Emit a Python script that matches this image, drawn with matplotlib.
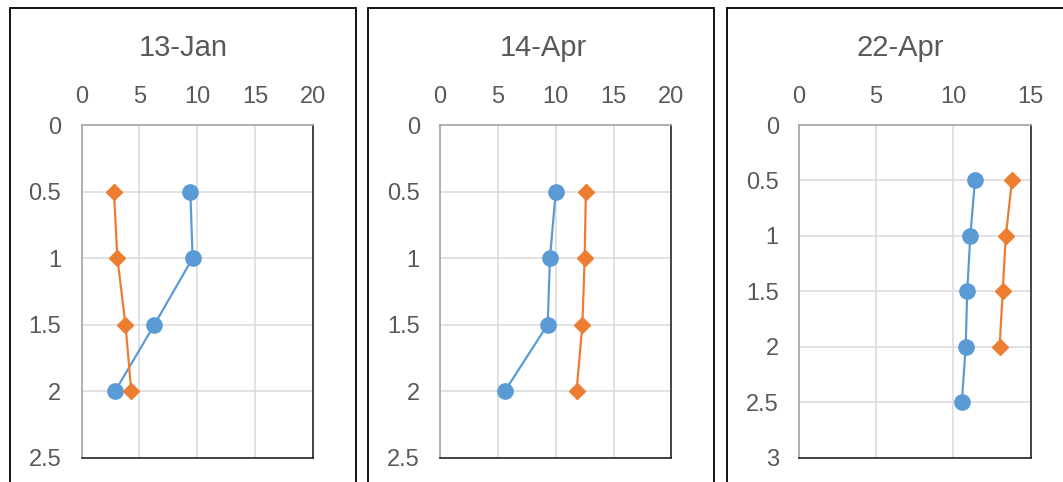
import matplotlib.pyplot as plt
from matplotlib.patches import Rectangle

plt.rcParams['font.family'] = ['Liberation Sans', 'DejaVu Sans']

# data: depth (y) vs value (x)
titles = ['13-Jan', '14-Apr', '22-Apr']

depth_jan13 = [0.5, 1, 1.5, 2]
blue_jan13 = [9.4, 9.6, 6.3, 2.9]
orange_jan13 = [2.8, 3.1, 3.8, 4.3]

depth_apr14 = [0.5, 1, 1.5, 2]
blue_apr14 = [10.0, 9.5, 9.3, 5.6]
orange_apr14 = [12.6, 12.5, 12.3, 11.8]

depth_apr22_blue = [0.5, 1, 1.5, 2, 2.5]
blue_apr22 = [11.4, 11.1, 10.9, 10.8, 10.55]
depth_apr22_orange = [0.5, 1, 1.5, 2]
orange_apr22 = [13.8, 13.4, 13.2, 13.0]

xmax = [20, 20, 15]
ymax = [2.5, 2.5, 3]

BLUE = '#5B9BD5'
ORANGE = '#ED7D31'
TXT = '#595959'

W, H = 1063, 482
fig = plt.figure(figsize=(W / 100, H / 100), dpi=100)

# panel frames (pixel coords, top origin) - bottoms run off the image
frames = [(10, 356), (368, 714), (727, 1075)]
for x0, x1 in frames:
    fig.add_artist(Rectangle((x0 / W, -0.1), (x1 - x0) / W, (H - 8) / H + 0.1,
                             transform=fig.transFigure, fill=False,
                             edgecolor='black', linewidth=1.3))

ax_left = [81.5, 440, 799]
ax_w = 231.5
ax_top, ax_bot = 125, 457.7
title_x = [183, 543, 900]

series = [
    (depth_jan13, blue_jan13, depth_jan13, orange_jan13),
    (depth_apr14, blue_apr14, depth_apr14, orange_apr14),
    (depth_apr22_blue, blue_apr22, depth_apr22_orange, orange_apr22),
]

for i in range(3):
    ax = fig.add_axes([ax_left[i] / W, (H - ax_bot) / H, ax_w / W, (ax_bot - ax_top) / H])
    db, vb, do, vo = series[i]
    ax.plot(vb, db, color=BLUE, marker='o', markersize=11, linewidth=1.6, zorder=3)
    ax.plot(vo, do, color=ORANGE, marker='D', markersize=8.5, linewidth=1.6, zorder=3)

    ax.set_xlim(0, xmax[i])
    ax.set_ylim(ymax[i], 0)
    xt = list(range(0, xmax[i] + 1, 5))
    ax.set_xticks(xt)
    ax.set_xticklabels([str(v) for v in xt])
    yt = [k * 0.5 for k in range(int(ymax[i] / 0.5) + 1)]
    ax.set_yticks(yt)
    ax.set_yticklabels(['%g' % v for v in yt])
    ax.xaxis.tick_top()
    ax.tick_params(length=0, labelsize=17, labelcolor=TXT)
    ax.tick_params(axis='x', pad=12.5)
    ax.tick_params(axis='y', pad=14.5)
    ax.grid(True, color='#d9d9d9', linewidth=1.1)
    ax.set_axisbelow(True)
    for s in ['left', 'top']:
        ax.spines[s].set_color('#a6a6a6')
        ax.spines[s].set_linewidth(1.2)
    for s in ['right', 'bottom']:
        ax.spines[s].set_color('#262626')
        ax.spines[s].set_linewidth(1.2)

    fig.text(title_x[i] / W, (H - 48) / H, titles[i], ha='center', va='center',
             fontsize=21, color=TXT)

fig.savefig('out.png', dpi=100)
